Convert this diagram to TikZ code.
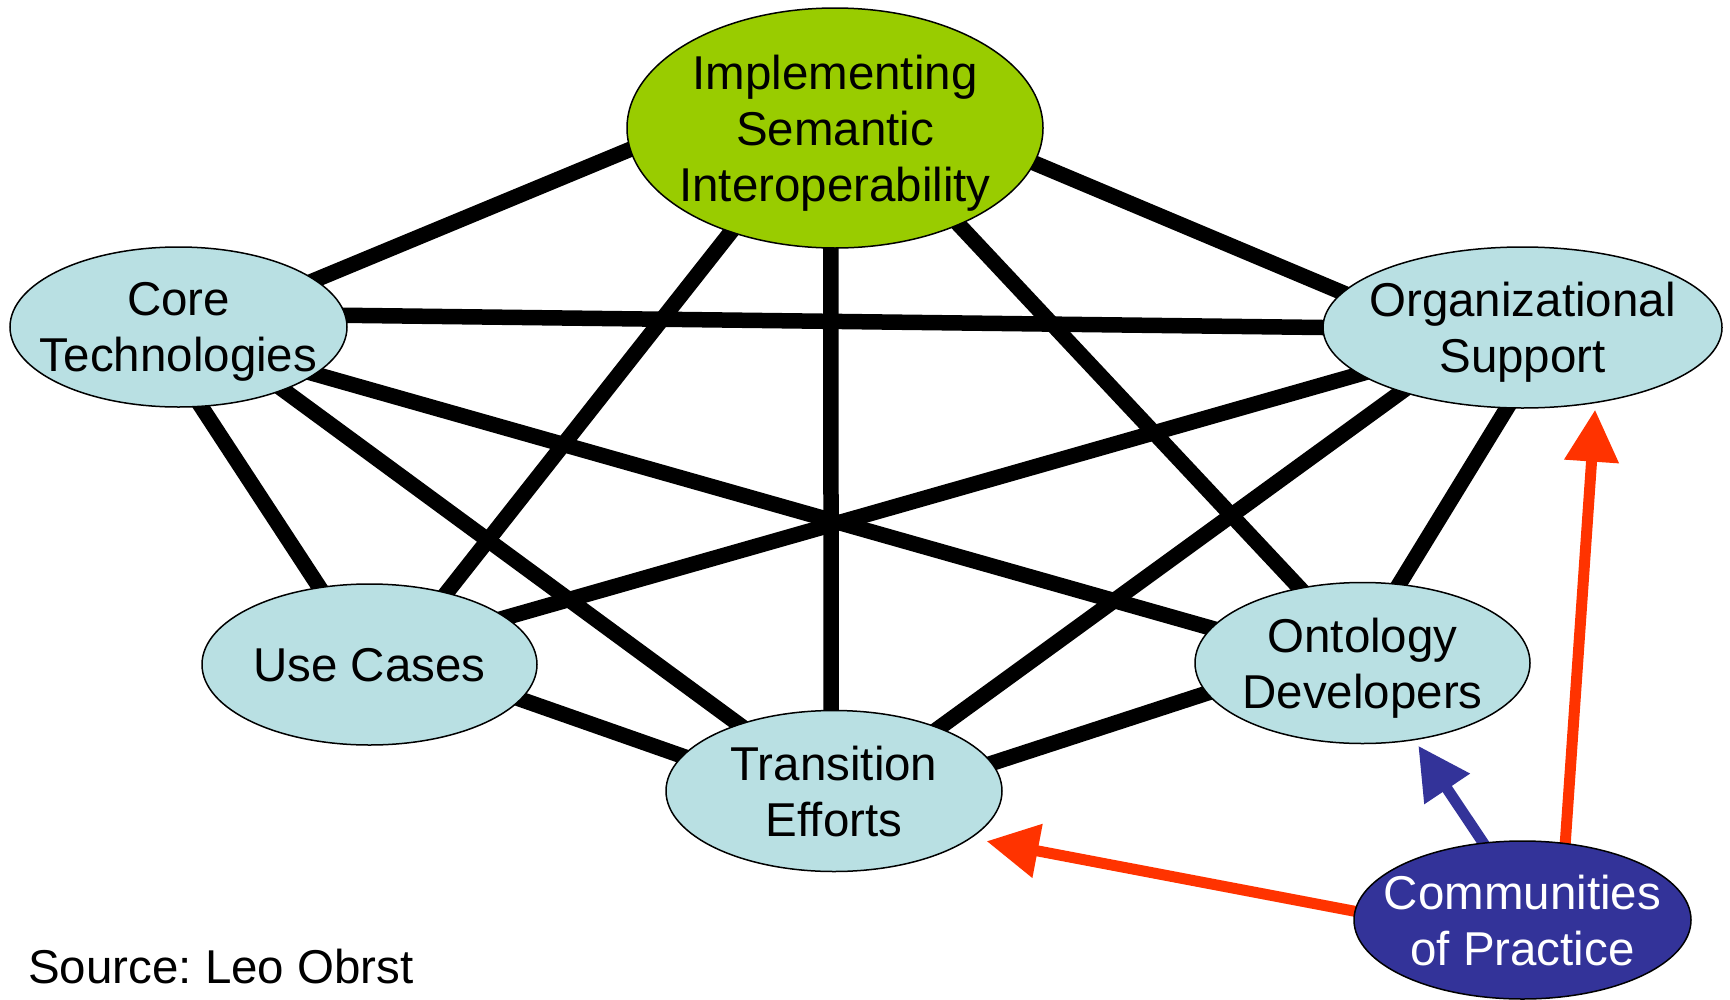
\documentclass[tikz,border=0pt]{standalone}
\usepackage{fontspec}
\setmainfont{Liberation Sans}
\usetikzlibrary{shapes.geometric,arrows.meta,backgrounds}
\frenchspacing

\definecolor{implgreen}{HTML}{99CC00}
\definecolor{nodeblue}{HTML}{B9E0E3}
\definecolor{copblue}{HTML}{333399}
\definecolor{arrowred}{HTML}{FF3300}

\begin{document}
\begin{tikzpicture}[x=1pt,y=-1pt,
  bubble/.style={ellipse, draw=black, line width=1.5pt, inner sep=0pt, fill=nodeblue},
  caption/.style={align=center, font=\fontsize{47.5}{56}\selectfont, text depth=0pt, inner sep=0pt},
  link/.style={line width=15.5pt, black, shorten <=-20pt, shorten >=-20pt},
  feed/.style={line width=11pt, shorten <=-12pt, -{Triangle[length=52pt,width=52pt]}},
]
% the seven topics
\node[bubble, fill=implgreen, minimum width=416pt, minimum height=240pt] (impl) at (835,128) {};
\node[bubble, minimum width=337pt, minimum height=160pt] (core) at (178.5,327) {};
\node[bubble, minimum width=399pt, minimum height=161pt] (org) at (1522.5,327.5) {};
\node[bubble, minimum width=335pt, minimum height=161pt] (usecases) at (369.5,664.5) {};
\node[bubble, minimum width=335pt, minimum height=161pt] (onto) at (1362.5,663) {};
\node[bubble, minimum width=336pt, minimum height=161pt] (trans) at (834,791) {};
\node[bubble, fill=copblue, minimum width=337pt, minimum height=158pt] (cop) at (1522.5,920) {};

% their captions
\node[caption] (implTxt) at (impl) {Implementing\\Semantic\\Interoperability};
\node[caption] (coreTxt) at (core) {Core\\Technologies};
\node[caption] (orgTxt) at (org) {Organizational\\Support};
\node[caption] (ucTxt) at (usecases) {Use Cases};
\node[caption] (ontoTxt) at (onto) {Ontology\\Developers};
\node[caption] (transTxt) at (trans) {Transition\\Efforts};
\node[caption, text=white] (copTxt) at (cop) {Communities\\of Practice};

\node[anchor=base west, inner sep=0pt, font=\fontsize{47.5}{56}\selectfont] (src) at (28,983) {Source: Leo Obrst};

\begin{scope}[on background layer]
  % thick links between the topics
  \draw[link] (impl.186) -- (core.19);
  \draw[link] (impl.350) -- (org.169);
  \draw[link] (impl.225) -- (usecases.43);
  \draw[link] (impl.268) -- (trans.92);
  \draw[link] (impl.322) -- (onto.130);
  \draw[link] (core.4) -- (org.180);
  \draw[link] (core.329) -- (trans.145);
  \draw[link] (core.341) -- (onto.167);
  \draw[link] (core.286) -- (usecases.123);
  \draw[link] (org.196) -- (usecases.19);
  \draw[link] (org.208) -- (trans.31);
  \draw[link] (org.259) -- (onto.65);
  \draw[link] (usecases.347) -- (trans.167);
  \draw[link] (onto.191) -- (trans.10);

  % influence of the communities of practice
  \draw[feed, arrowred, shorten >=15.5pt] (cop.177) -- (trans.341.5);
  \draw[feed, arrowred, shorten >=6.5pt] (cop.61) -- (org.314);
  \draw[feed, copblue, shorten >=6.6pt] (cop.117) -- (onto.304);
\end{scope}

% fixed page frame
\pgfresetboundingbox
\useasboundingbox (0,0) rectangle (1730,999);
\end{tikzpicture}
\end{document}
